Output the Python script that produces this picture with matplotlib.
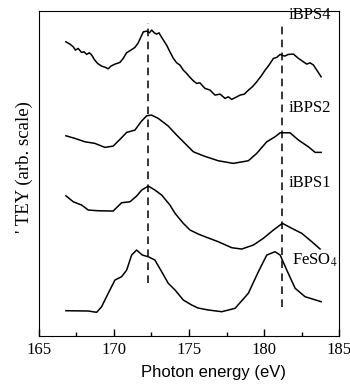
import numpy as np
import matplotlib
matplotlib.use("Agg")
import matplotlib.pyplot as plt
from matplotlib.ticker import MultipleLocator

plt.rcParams["mathtext.fontset"] = "stix"

# photon energy (eV) and TEY (arb. units, curves offset vertically)
e_bps4 = [166.80, 167.07, 167.29, 167.44, 167.62, 167.84, 168.02, 168.18, 168.36, 168.51,
          168.69, 168.91, 169.18, 169.44, 169.62, 169.80, 170.07, 170.40, 170.62, 170.84,
          171.13, 171.40, 171.62, 171.80, 171.96, 172.18, 172.36, 172.51, 172.69, 172.84,
          173.00, 173.18, 173.51, 173.73, 173.96, 174.18, 174.40, 174.62, 174.84, 175.07,
          175.29, 175.51, 175.73, 175.96, 176.07, 176.40, 176.73, 177.07, 177.40, 177.62,
          177.84, 178.11, 178.40, 178.69, 178.96, 179.22, 179.51, 179.80, 180.07, 180.33,
          180.62, 180.84, 181.07, 181.36, 181.62, 181.96, 182.29, 182.62, 182.84, 183.07,
          183.29, 183.51, 183.80]
y_bps4 = [294.3, 292.0, 289.3, 286.0, 287.7, 283.7, 284.3, 281.7, 283.3, 281.3,
          276.7, 272.7, 270.0, 268.7, 267.3, 270.0, 272.0, 273.7, 277.7, 283.3,
          286.0, 288.7, 293.3, 299.3, 304.3, 305.0, 303.3, 306.0, 303.3, 302.0,
          303.3, 298.7, 291.0, 284.3, 277.7, 273.3, 271.0, 266.0, 262.7, 258.7,
          255.3, 252.7, 253.3, 249.3, 247.7, 246.0, 241.0, 242.0, 237.7, 239.3,
          236.7, 238.7, 241.0, 242.0, 246.0, 249.3, 254.3, 260.0, 266.0, 271.0,
          277.7, 278.7, 281.7, 280.0, 281.7, 282.0, 277.7, 274.3, 272.0, 273.3,
          271.0, 266.0, 259.3]

e_bps2 = [166.80, 167.40, 168.07, 168.73, 169.40, 169.95, 170.40, 170.85, 171.40, 171.80,
          172.18, 172.51, 172.95, 173.62, 174.18, 174.73, 175.29, 175.95, 176.95, 177.95,
          178.95, 179.51, 180.18, 180.73, 181.07, 181.73, 182.29, 182.95, 183.40, 183.80]
y_bps2 = [200.3, 197.7, 194.3, 192.7, 188.7, 190.0, 196.7, 203.7, 206.0, 214.3,
          220.3, 221.0, 217.7, 210.0, 201.0, 192.7, 184.3, 180.3, 175.3, 172.7,
          175.3, 182.7, 194.3, 199.3, 203.3, 203.3, 196.0, 189.3, 183.7, 183.7]

e_bps1 = [166.80, 167.29, 167.85, 168.29, 168.95, 169.95, 170.51, 171.07, 171.51, 171.85,
          172.29, 172.73, 173.18, 173.73, 174.07, 174.62, 175.07, 175.62, 176.07, 176.95,
          177.85, 178.51, 179.29, 179.95, 180.62, 181.22, 181.85, 182.51, 183.18, 183.73]
y_bps1 = [140.3, 134.3, 131.0, 126.0, 125.3, 125.0, 133.3, 134.3, 140.0, 146.0,
          150.0, 146.0, 141.0, 131.0, 122.7, 112.7, 106.0, 102.0, 99.3, 94.3,
          88.3, 87.0, 91.0, 97.7, 106.0, 112.7, 107.7, 102.7, 94.3, 87.0]

e_fes = [166.80, 168.29, 168.85, 169.18, 169.62, 170.07, 170.51, 170.85, 171.18, 171.51,
         171.89, 172.29, 172.73, 173.18, 173.62, 174.07, 174.62, 175.18, 175.60, 176.29,
         177.18, 178.07, 178.95, 179.62, 180.18, 180.73, 181.07, 181.51, 182.07, 182.73,
         183.80]
y_fes = [25.3, 25.0, 23.7, 29.3, 42.7, 56.0, 59.3, 66.0, 81.0, 86.0,
         81.0, 79.3, 76.0, 64.3, 52.7, 46.0, 36.0, 31.0, 28.0, 26.0,
         24.3, 27.7, 42.7, 64.3, 81.0, 84.3, 81.0, 66.0, 47.7, 39.3,
         34.3]

labels = ["iBPS4", "iBPS2", "iBPS1", "FeSO$_4$"]
label_x = [181.6, 181.6, 181.6, 181.87]
label_y = [321, 228, 153, 76]
peaks = [172.3, 181.2]
peak_top = [313, 313]
peak_bottom = [53, 29]

serif = "Liberation Serif"

fig = plt.figure(figsize=(3.5, 3.84), dpi=100)
ax = fig.add_axes([0.111, 0.125, 0.858, 0.846])

for e, y in [(e_bps4, y_bps4), (e_bps2, y_bps2), (e_bps1, y_bps1), (e_fes, y_fes)]:
    ax.plot(e, y, color="black", lw=1.1)

for xp, y0, y1 in zip(peaks, peak_bottom, peak_top):
    ax.vlines(xp, y0, y1, colors="black", linestyles=(0, (5, 3.5)), lw=1.1)

for lab, lx, ly in zip(labels, label_x, label_y):
    ax.text(lx, ly, lab, fontsize=12, family=serif, va="center", ha="left")

ax.set_xlim(165, 185)
ax.set_ylim(0, 325)
ax.xaxis.set_major_locator(MultipleLocator(5))
ax.xaxis.set_minor_locator(MultipleLocator(2.5))
ax.tick_params(axis="x", which="major", direction="in", length=5, width=1, labelsize=12, pad=4)
ax.tick_params(axis="x", which="minor", direction="in", length=3, width=1)
ax.set_yticks([])
for lbl in ax.get_xticklabels():
    lbl.set_family(serif)

ax.set_xlabel("Photon energy (eV)", fontsize=12, family="Liberation Sans")
ax.xaxis.set_label_coords(0.582, -0.09)
ax.set_ylabel("' TEY (arb. scale)", fontsize=13.5, family=serif)
ax.yaxis.set_label_coords(-0.02, 0.52)

plt.savefig("out.png", dpi=100)
